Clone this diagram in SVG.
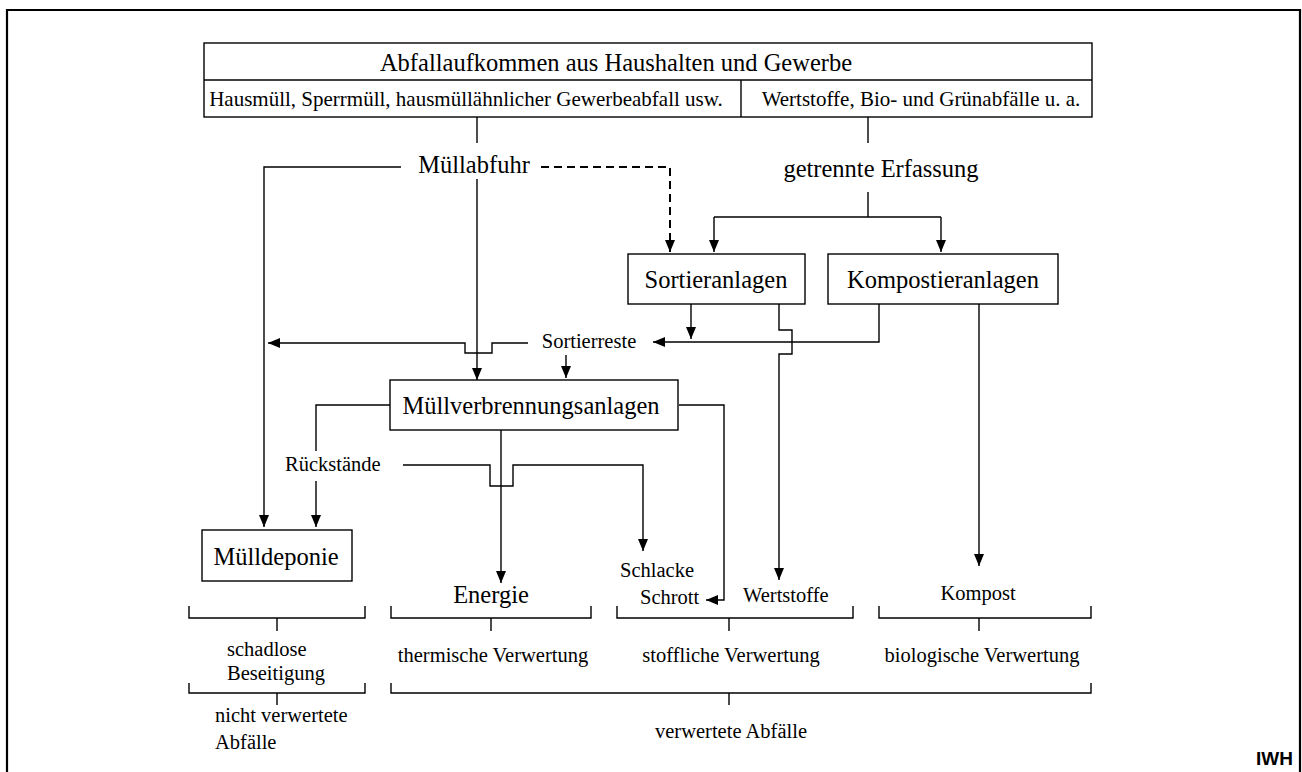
<svg xmlns="http://www.w3.org/2000/svg" width="1302" height="772" viewBox="0 0 1302 772">
<style>
text{font-family:"Liberation Serif","Times New Roman",serif;fill:#000}
.big{font-size:24.5px}
.mid{font-size:21px}
.sm{font-size:20.5px}
.box{fill:#fff;stroke:#000;stroke-width:1.4}
.ln{fill:none;stroke:#000;stroke-width:1.4}
.dash{fill:none;stroke:#000;stroke-width:2;stroke-dasharray:8 5}
.c{text-anchor:middle}
.iwh{font-family:"Liberation Sans",Arial,sans-serif;font-weight:bold;font-size:19px}
</style>
<defs>
<marker id="ah" viewBox="0 0 12 10" refX="12" refY="5" markerWidth="12" markerHeight="10" markerUnits="userSpaceOnUse" orient="auto">
<path d="M0,0 L12,5 L0,10 z" fill="#000"/>
</marker>
</defs>
<rect width="1302" height="772" fill="#fff"/>
<path d="M7,773 V10 H1300 V773" fill="none" stroke="#000" stroke-width="2.2"/>

<g id="header">
<rect class="box" x="204" y="43" width="888" height="74"/>
<line class="ln" x1="204" y1="80" x2="1092" y2="80"/>
<line class="ln" x1="741" y1="80" x2="741" y2="117"/>
<text class="big" x="616" y="71" text-anchor="middle">Abfallaufkommen aus Haushalten und Gewerbe</text>
<text class="mid c" x="466" y="106">Hausmüll, Sperrmüll, hausmüllähnlicher Gewerbeabfall usw.</text>
<text class="mid c" x="921" y="106">Wertstoffe, Bio- und Grünabfälle u. a.</text>
</g>

<g id="muellabfuhr"><text class="big c" x="474" y="173">Müllabfuhr</text></g>
<g id="getrennte"><text class="big c" x="881" y="177">getrennte Erfassung</text></g>

<g id="sortieranlagen">
<rect class="box" x="628" y="254" width="177" height="50"/>
<text class="big c" x="716" y="288">Sortieranlagen</text>
</g>
<g id="kompostieranlagen">
<rect class="box" x="828" y="254" width="230" height="50"/>
<text class="big c" x="943" y="288">Kompostieranlagen</text>
</g>
<g id="sortierreste"><text class="sm c" x="589" y="348">Sortierreste</text></g>
<g id="mva">
<rect class="box" x="390" y="380" width="288" height="50"/>
<text class="big c" x="531" y="414">Müllverbrennungsanlagen</text>
</g>
<g id="rueckstaende"><text class="sm" x="285" y="471">Rückstände</text></g>
<g id="muelldeponie">
<rect class="box" x="202" y="530" width="150" height="51"/>
<text class="big c" x="276" y="565">Mülldeponie</text>
</g>
<g id="energie"><text class="big c" x="491" y="603">Energie</text></g>
<g id="schlacke"><text class="sm" x="620" y="577">Schlacke</text><text class="sm" x="640" y="604">Schrott</text></g>
<g id="wertstoffe"><text class="sm" x="743" y="602">Wertstoffe</text></g>
<g id="kompost"><text class="sm c" x="978" y="600">Kompost</text></g>

<g id="connectors">
<path class="ln" d="M477,117 V143"/>
<path class="ln" d="M868,117 V143"/>
<path class="ln" d="M401,167 H264 V527" marker-end="url(#ah)"/>
<path class="dash" d="M541,167 H670 V252" marker-end="url(#ah)"/>
<path class="ln" d="M477,179 V380" marker-end="url(#ah)"/>
<path class="ln" d="M868,192 V217"/>
<path class="ln" d="M714,217 H941"/>
<path class="ln" d="M714,217 V252" marker-end="url(#ah)"/>
<path class="ln" d="M941,217 V252" marker-end="url(#ah)"/>
<path class="ln" d="M691,304 V339" marker-end="url(#ah)"/>
<path class="ln" d="M779,304 V330 H792 V354 H779 V580" marker-end="url(#ah)"/>
<path class="ln" d="M879,304 V342 H653" marker-end="url(#ah)"/>
<path class="ln" d="M979,304 V566" marker-end="url(#ah)"/>
<path class="ln" d="M528,343 H492 V353 H465 V343 H268" marker-end="url(#ah)"/>
<path class="ln" d="M566,355 V378" marker-end="url(#ah)"/>
<path class="ln" d="M390,405 H316 V451"/>
<path class="ln" d="M316,481 V527" marker-end="url(#ah)"/>
<path class="ln" d="M679,405 H724 V600 H706" marker-end="url(#ah)"/>
<path class="ln" d="M501,430 V583" marker-end="url(#ah)"/>
<path class="ln" d="M403,465 H490 V486 H513 V465 H643 V551" marker-end="url(#ah)"/>
</g>

<g id="brackets">
<path class="ln" d="M189,606 V618 H365 V606 M277,618 V631"/>
<path class="ln" d="M391,606 V618 H591 V606 M491,618 V631"/>
<path class="ln" d="M617,606 V618 H853 V606 M729,618 V631"/>
<path class="ln" d="M879,606 V618 H1091 V606 M979,618 V631"/>
<path class="ln" d="M189,683 V693 H365 V683 M277,693 V705"/>
<path class="ln" d="M391,683 V693 H1091 V683 M729,693 V705"/>
</g>

<g id="labels">
<text class="sm" x="227" y="656">schadlose</text>
<text class="sm" x="227" y="680">Beseitigung</text>
<text class="sm c" x="493" y="662">thermische Verwertung</text>
<text class="sm c" x="731" y="662">stoffliche Verwertung</text>
<text class="sm c" x="982" y="662">biologische Verwertung</text>
<text class="sm" x="215" y="722">nicht verwertete</text>
<text class="sm" x="215" y="749">Abfälle</text>
<text class="sm c" x="731" y="738">verwertete Abfälle</text>
<text class="iwh" x="1293" y="765" text-anchor="end">IWH</text>
</g>
</svg>
